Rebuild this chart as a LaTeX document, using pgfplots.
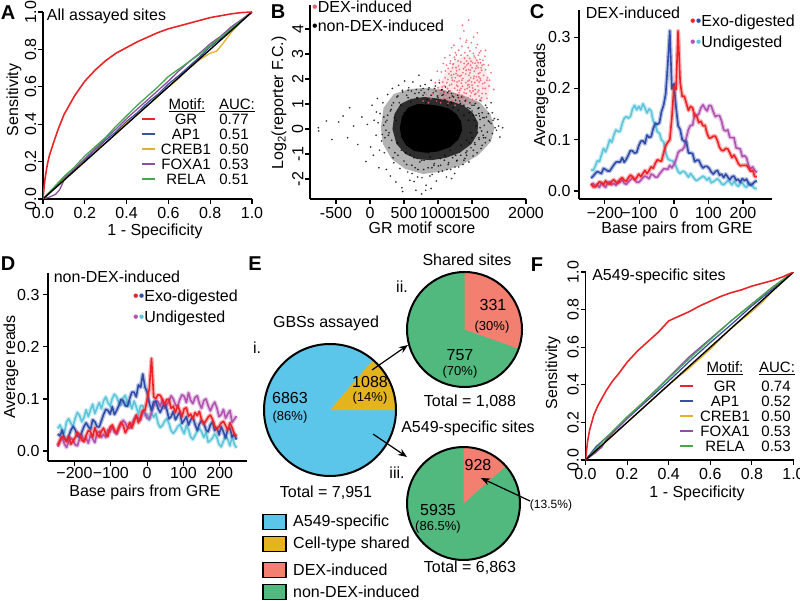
\documentclass[border=0pt]{standalone}
\usepackage{fontspec}
\setmainfont{Liberation Sans}
\usepackage{pgfplots}
\pgfplotsset{compat=1.18}
\usepackage{pgfplotstable}
\usetikzlibrary{arrows.meta}
\newcommand\fs[1]{\fontsize{#1}{#1}\selectfont}
\definecolor{cGR}{HTML}{E8262A}
\definecolor{cAP}{HTML}{3C50A0}
\definecolor{cCR}{HTML}{E3B12A}
\definecolor{cFO}{HTML}{8E4FA0}
\definecolor{cRE}{HTML}{45A84E}
\definecolor{cBlue}{HTML}{2F4CA8}
\definecolor{cRed}{HTML}{EE2226}
\definecolor{cCyan}{HTML}{5EC6DA}
\definecolor{cMag}{HTML}{B153B0}
\definecolor{pBlue}{HTML}{5CC6EA}
\definecolor{pGold}{HTML}{E4B41E}
\definecolor{pSalmon}{HTML}{F27F6F}
\definecolor{pGreen}{HTML}{52B97E}
\definecolor{dexred}{HTML}{F05A68}
\pgfplotsset{
 rstyle/.style={
  scale only axis, anchor=south west,
  axis x line*=bottom, axis y line*=left,
  axis line style={line width=1.3pt},
  tick align=outside, major tick length=5pt,
  every tick/.style={line width=1.1pt, black},
  tick label style={font=\fs{16}},
  /pgf/number format/assume math mode=true,
  scaled ticks=false,
 },
 rot ticks/.style={yticklabel style={rotate=90, anchor=south, inner sep=1.5pt}},
 ribbon/.style={line width=4.2pt, opacity=0.35, line join=round},
 core/.style={line width=1.6pt, line join=round},
}
\tikzset{lab/.style={font=\fs{16}, inner sep=0pt},
 lab15/.style={font=\fs{15}, inner sep=0pt},
 pct/.style={font=\fs{13}, inner sep=0pt},
 letter/.style={font=\bfseries\fs{20}, inner sep=0pt}}

\pgfplotstableread{
x b r c m
-240 0.025 0.014 0.042 0.012
-234 0.029 0.008 0.040 0.015
-228 0.034 0.008 0.048 0.009
-222 0.038 0.013 0.059 0.012
-216 0.036 0.018 0.057 0.007
-210 0.034 0.016 0.070 0.016
-204 0.044 0.012 0.083 0.011
-198 0.042 0.020 0.076 0.007
-192 0.039 0.015 0.087 0.016
-186 0.039 0.013 0.100 0.018
-180 0.045 0.019 0.095 0.012
-174 0.051 0.022 0.109 0.015
-168 0.056 0.017 0.119 0.011
-162 0.057 0.015 0.116 0.019
-156 0.056 0.023 0.116 0.017
-150 0.065 0.026 0.131 0.022
-144 0.056 0.021 0.142 0.015
-138 0.062 0.019 0.145 0.013
-132 0.070 0.026 0.142 0.018
-126 0.079 0.031 0.145 0.022
-120 0.078 0.028 0.160 0.026
-114 0.074 0.022 0.167 0.023
-108 0.075 0.026 0.158 0.017
-102 0.088 0.033 0.165 0.017
-96 0.097 0.028 0.158 0.021
-90 0.098 0.034 0.170 0.026
-84 0.092 0.040 0.162 0.029
-78 0.109 0.034 0.152 0.027
-72 0.104 0.040 0.160 0.024
-66 0.106 0.047 0.156 0.033
-60 0.122 0.044 0.136 0.031
-54 0.132 0.054 0.131 0.027
-48 0.130 0.061 0.115 0.027
-42 0.133 0.059 0.113 0.033
-36 0.155 0.058 0.099 0.038
-30 0.167 0.074 0.096 0.043
-24 0.189 0.088 0.075 0.043
-18 0.245 0.095 0.063 0.042
-12 0.312 0.100 0.060 0.050
-6 0.199 0.143 0.059 0.045
0 0.209 0.204 0.057 0.052
6 0.163 0.198 0.048 0.061
12 0.127 0.312 0.038 0.075
18 0.120 0.212 0.034 0.079
24 0.100 0.184 0.038 0.080
30 0.097 0.185 0.038 0.086
36 0.096 0.171 0.033 0.104
42 0.074 0.157 0.027 0.120
48 0.074 0.165 0.034 0.128
54 0.073 0.162 0.029 0.128
60 0.057 0.146 0.023 0.150
66 0.060 0.146 0.020 0.148
72 0.060 0.133 0.023 0.150
78 0.051 0.136 0.026 0.162
84 0.045 0.127 0.029 0.168
90 0.048 0.128 0.026 0.161
96 0.048 0.112 0.021 0.156
102 0.044 0.103 0.026 0.167
108 0.037 0.104 0.016 0.166
114 0.033 0.107 0.018 0.154
120 0.038 0.107 0.021 0.145
126 0.040 0.098 0.024 0.147
132 0.031 0.085 0.020 0.147
138 0.033 0.079 0.014 0.136
144 0.026 0.079 0.012 0.119
150 0.033 0.083 0.016 0.117
156 0.027 0.082 0.020 0.119
162 0.022 0.074 0.017 0.104
168 0.028 0.065 0.012 0.104
174 0.029 0.070 0.019 0.104
180 0.021 0.063 0.013 0.084
186 0.023 0.054 0.009 0.083
192 0.017 0.049 0.014 0.082
198 0.024 0.050 0.016 0.067
204 0.020 0.050 0.010 0.069
210 0.023 0.050 0.007 0.065
216 0.015 0.045 0.014 0.050
222 0.011 0.038 0.015 0.043
228 0.014 0.040 0.009 0.047
234 0.018 0.028 0.005 0.040
240 0.020 0.028 0.005 0.036
}\tabC

\pgfplotstableread{
x b r c m
-246 0.033 0.011 0.043 0.008
-240 0.029 0.021 0.050 0.018
-234 0.040 0.028 0.040 0.025
-228 0.025 0.025 0.035 0.014
-222 0.020 0.018 0.056 0.007
-216 0.029 0.028 0.062 0.018
-210 0.040 0.013 0.053 0.025
-204 0.047 0.019 0.048 0.021
-198 0.041 0.026 0.063 0.012
-192 0.029 0.036 0.074 0.010
-186 0.027 0.031 0.068 0.024
-180 0.036 0.021 0.056 0.031
-174 0.047 0.018 0.064 0.019
-168 0.054 0.030 0.079 0.025
-162 0.047 0.039 0.066 0.015
-156 0.041 0.037 0.079 0.031
-150 0.060 0.027 0.090 0.024
-144 0.056 0.045 0.072 0.016
-138 0.047 0.033 0.083 0.034
-132 0.046 0.027 0.093 0.038
-126 0.058 0.038 0.081 0.026
-120 0.070 0.044 0.096 0.032
-114 0.080 0.033 0.104 0.026
-108 0.078 0.028 0.093 0.041
-102 0.071 0.046 0.086 0.037
-96 0.085 0.050 0.101 0.047
-90 0.070 0.040 0.109 0.036
-84 0.078 0.035 0.104 0.032
-78 0.087 0.046 0.093 0.042
-72 0.099 0.055 0.088 0.052
-66 0.096 0.049 0.102 0.059
-60 0.087 0.035 0.107 0.054
-54 0.086 0.043 0.089 0.045
-48 0.101 0.055 0.095 0.044
-42 0.113 0.044 0.081 0.052
-36 0.113 0.056 0.096 0.061
-30 0.104 0.069 0.085 0.068
-24 0.127 0.054 0.071 0.063
-18 0.122 0.066 0.087 0.059
-12 0.148 0.078 0.087 0.076
-6 0.123 0.078 0.068 0.073
0 0.113 0.099 0.071 0.063
6 0.092 0.120 0.059 0.062
12 0.078 0.178 0.073 0.074
18 0.095 0.104 0.065 0.087
24 0.095 0.101 0.072 0.097
30 0.082 0.108 0.053 0.095
36 0.074 0.107 0.045 0.086
42 0.084 0.099 0.049 0.099
48 0.091 0.090 0.057 0.082
54 0.080 0.099 0.062 0.089
60 0.062 0.099 0.053 0.096
66 0.066 0.082 0.039 0.106
72 0.076 0.086 0.034 0.100
78 0.060 0.074 0.039 0.089
84 0.068 0.087 0.047 0.086
90 0.075 0.077 0.051 0.099
96 0.053 0.066 0.042 0.108
102 0.059 0.081 0.033 0.105
108 0.066 0.083 0.049 0.093
114 0.050 0.067 0.041 0.112
120 0.060 0.071 0.027 0.097
126 0.065 0.062 0.022 0.091
132 0.051 0.074 0.030 0.103
138 0.040 0.068 0.038 0.106
144 0.052 0.076 0.043 0.091
150 0.059 0.059 0.037 0.082
156 0.053 0.052 0.026 0.097
162 0.041 0.058 0.036 0.100
168 0.037 0.065 0.017 0.087
174 0.050 0.069 0.020 0.077
180 0.056 0.061 0.025 0.087
186 0.039 0.048 0.033 0.094
192 0.045 0.042 0.026 0.083
198 0.031 0.047 0.013 0.066
204 0.047 0.054 0.008 0.070
210 0.037 0.057 0.019 0.080
216 0.025 0.049 0.028 0.063
222 0.042 0.040 0.023 0.071
228 0.044 0.054 0.010 0.078
234 0.027 0.045 0.028 0.055
240 0.032 0.033 0.013 0.061
246 0.022 0.028 0.006 0.067
}\tabD

\begin{document}
\begin{tikzpicture}
\useasboundingbox (0pt,0pt) rectangle (800pt,-601pt);

% ---------------- Panel A ----------------
\begin{axis}[rstyle, rot ticks, at={(43pt,-199pt)}, width=209pt, height=187pt,
 xmin=0, xmax=1, ymin=0, ymax=1, no markers,
 xtick={0,0.2,0.4,0.6,0.8,1}, xticklabels={0.0,0.2,0.4,0.6,0.8,1.0},
 ytick={0,0.2,0.4,0.6,0.8,1}, yticklabels={0.0,0.2,0.4,0.6,0.8,1.0}]
\addplot[cAP, line width=1.3pt] coordinates {(0,0) (0.02,0.025) (0.05,0.055) (0.08,0.09) (0.1,0.11) (0.15,0.16) (0.2,0.21) (0.25,0.26) (0.3,0.315) (0.35,0.36) (0.4,0.415) (0.45,0.46) (0.5,0.515) (0.55,0.56) (0.6,0.615) (0.65,0.66) (0.7,0.71) (0.75,0.76) (0.8,0.815) (0.85,0.86) (0.9,0.91) (0.95,0.955) (1,1)};
\addplot[cCR, line width=1.3pt] coordinates {(0,0) (0.03,0.035) (0.06,0.06) (0.1,0.105) (0.15,0.155) (0.2,0.2) (0.25,0.255) (0.3,0.3) (0.35,0.35) (0.4,0.405) (0.45,0.45) (0.5,0.5) (0.55,0.55) (0.6,0.6) (0.65,0.645) (0.7,0.7) (0.75,0.745) (0.8,0.78) (0.83,0.79) (0.86,0.83) (0.9,0.89) (0.95,0.95) (1,1)};
\addplot[cFO, line width=1.3pt] coordinates {(0,0) (0.03,0.01) (0.06,0.025) (0.08,0.05) (0.1,0.1) (0.15,0.16) (0.2,0.215) (0.25,0.27) (0.3,0.325) (0.35,0.375) (0.4,0.43) (0.45,0.48) (0.5,0.53) (0.55,0.58) (0.6,0.63) (0.65,0.685) (0.7,0.735) (0.75,0.78) (0.8,0.83) (0.85,0.87) (0.9,0.92) (0.95,0.96) (1,1)};
\addplot[cRE, line width=1.3pt] coordinates {(0,0) (0.05,0.06) (0.1,0.12) (0.15,0.17) (0.2,0.23) (0.25,0.28) (0.3,0.33) (0.35,0.39) (0.4,0.445) (0.45,0.5) (0.5,0.55) (0.55,0.6) (0.6,0.655) (0.65,0.695) (0.7,0.735) (0.75,0.775) (0.8,0.82) (0.85,0.865) (0.9,0.91) (0.95,0.955) (1,1)};
\addplot[black, line width=1.4pt] coordinates {(0,0) (1,1)};
\addplot[cGR, line width=1.6pt] coordinates {(0,0) (0.005,0.06) (0.01,0.11) (0.02,0.18) (0.03,0.23) (0.05,0.3) (0.075,0.38) (0.1,0.45) (0.125,0.5) (0.15,0.55) (0.2,0.63) (0.25,0.69) (0.3,0.74) (0.35,0.78) (0.4,0.81) (0.45,0.84) (0.5,0.865) (0.55,0.89) (0.6,0.91) (0.65,0.925) (0.7,0.94) (0.75,0.955) (0.8,0.97) (0.85,0.98) (0.9,0.99) (0.95,0.997) (1,1)};
\end{axis}
\node[letter] at (8pt,-13pt) {A};
\node[lab] at (106.5pt,-16pt) {All assayed sites};
\node[lab, rotate=90] at (14pt,-100pt) {Sensitivity};
\node[lab] at (155pt,-231pt) {1 - Specificity};
\node[lab15] at (187pt,-105pt) {\underline{Motif:}};
\node[lab15] at (237pt,-105pt) {\underline{AUC:}};
\foreach \y/\c/\n/\v in {119/cGR/GR/0.77, 134/cAP/AP1/0.51, 149/cCR/CREB1/0.50, 164/cFO/FOXA1/0.53, 179/cRE/RELA/0.51}{
 \draw[\c, line width=1.5pt] (142pt,-\y pt) -- (155pt,-\y pt);
 \node[lab15] at (186pt,-\y pt) {\n};
 \node[lab15] at (234pt,-\y pt) {\v};
}

% ---------------- Panel B ----------------
\begin{axis}[rstyle, rot ticks, at={(310pt,-199pt)}, width=216pt, height=194pt,
 xmin=-882, xmax=2294, ymin=-2.8, ymax=4.96,
 xtick={-500,0,500,1000,1500,2294}, xticklabels={-500,0,500,1000,1500,2000},
 ytick={-2,-1,0,1,2,3,4}, yticklabels={-2,-1,0,1,2,3,4}]
\addplot[draw=none, fill=dexred, fill opacity=0.14] coordinates {(950,1.05) (1000,1.6) (1100,2.2) (1250,2.7) (1400,2.95) (1550,2.85) (1680,2.5) (1760,1.9) (1740,1.3) (1600,1.0) (1400,0.95) (1200,0.95) (950,1.05)};
\addplot[draw=none, fill=black, fill opacity=0.3] coordinates {(160,0.05) (200,0.85) (350,1.4) (580,1.6) (840,1.65) (1100,1.55) (1370,1.35) (1620,1.05) (1770,0.6) (1830,0.05) (1780,-0.5) (1590,-1.05) (1340,-1.45) (1060,-1.7) (780,-1.8) (520,-1.6) (320,-1.2) (190,-0.6) (160,0.05)};
\addplot[draw=none, fill=black, fill opacity=0.75] coordinates {(330,0) (360,0.6) (450,1.0) (600,1.2) (800,1.28) (990,1.22) (1180,1.12) (1370,0.95) (1510,0.65) (1590,0.25) (1580,-0.2) (1490,-0.6) (1320,-0.95) (1120,-1.15) (900,-1.25) (690,-1.2) (520,-1.0) (390,-0.6) (330,0)};
\addplot[draw=none, fill=black] coordinates {(440,0.05) (470,0.5) (560,0.85) (700,1.0) (870,0.98) (1020,0.92) (1160,0.82) (1270,0.6) (1340,0.3) (1355,-0.05) (1300,-0.42) (1180,-0.72) (1000,-0.9) (820,-0.95) (650,-0.88) (530,-0.65) (460,-0.32) (440,0.05)};
\addplot[only marks, mark=*, mark size=0.7pt, black, mark options={draw opacity=0.6, fill opacity=0.6}] coordinates {
(-760,0.05) (-755,-0.08) (-640,0.32) (-560,-0.42) (-460,0.28) (-395,0.52) (-330,-0.35) (-300,0.85) (-240,0.12) (-180,-0.62) (-120,0.48) (-60,-1.3) (-40,0.18) (10,-0.72) (30,0.95) (50,-1.05) (60,0.35) (90,-0.25) (110,1.22) (130,-1.55) (150,0.62) (170,-0.48) (190,1.05) (210,-0.95) (230,0.28) (240,-1.62) (260,1.38) (280,-0.15) (300,-1.88) (310,0.78) (330,1.62) (350,-1.35) (360,0.45) (380,-2.12) (395,1.28) (410,-1.05) (420,1.75) (440,-1.58) (455,0.95) (470,-2.35) (480,1.48) (500,-1.28) (510,1.92) (525,-0.95) (540,1.35) (555,-1.72) (570,1.65) (585,-2.05) (600,1.08) (615,-1.45) (630,1.88) (645,-1.15) (660,1.42) (675,-2.45) (690,1.25) (705,-1.62) (720,2.15) (735,-1.32) (750,1.55) (765,-1.95) (780,1.35) (795,-1.25) (810,1.78) (825,-2.25) (840,1.18) (855,-1.55) (870,1.65) (885,-1.12) (900,1.95) (915,-1.82) (930,1.45) (945,-1.38) (960,1.72) (975,-2.08) (990,1.32) (1005,-1.48) (1020,1.85) (1035,-1.18) (1050,1.55) (1065,-1.68) (1080,1.38) (1095,-1.25) (1110,1.68) (1125,-1.92) (1140,1.45) (1155,-1.35) (1170,1.25) (1185,-1.62) (1200,1.42) (1215,-1.15) (1230,1.28) (1245,-1.78) (1260,1.15) (1275,-1.28) (1290,1.35) (1305,-1.52) (1320,1.12) (1335,-1.05) (1350,1.28) (1365,-1.42) (1380,0.95) (1395,-1.18) (1410,1.15) (1425,-0.88) (1440,0.85) (1455,-1.32) (1470,1.05) (1485,-0.75) (1500,0.72) (1515,-1.08) (1530,0.95) (1545,-0.62) (1560,0.55) (1575,-0.95) (1590,0.82) (1605,-0.42) (1620,0.38) (1635,-0.78) (1650,0.65) (1665,-0.25) (1680,0.15) (1695,-0.55) (1710,0.48) (1725,-0.12) (1740,0.32) (1760,-0.45) (1780,0.22) (1800,-0.18) (1830,0.42) (1860,-0.05) (1890,0.12) (1910,-0.32) (1950,0.05)
(200,0.15) (220,-0.35) (260,0.55) (280,-0.75) (320,0.95) (340,-1.15) (380,0.35) (400,-0.55) (430,1.05) (460,-0.85) (500,0.65) (520,-0.35) (560,1.25) (590,-1.05) (640,0.75) (680,-0.65) (720,1.45) (760,-1.25) (820,1.05) (860,-0.95) (900,0.55) (940,-1.45) (980,1.15) (1020,-0.75) (1060,1.35) (1100,-1.05) (1140,0.95) (1180,-0.85) (1220,0.85) (1260,-1.05) (1300,0.75) (1340,-0.65) (1380,0.55) (1420,-0.45) (1460,0.65) (1500,-0.35) (1540,0.35) (1580,-0.15) (1620,0.05) (1660,0.45) (1700,-0.35) (1200,1.05) (1300,1.25) (1400,1.12) (1500,0.95) (1600,0.85) (1100,1.18) (1000,1.25) (900,1.35) (800,1.45) (700,1.25)
(480,-2.5) (820,-2.45) (900,-2.38) (1200,-1.98) (650,-2.1) (760,-2.6)
(1450,0.35) (1480,-0.15) (1520,0.55) (1560,0.12) (1600,0.62) (1640,-0.08) (1680,0.45) (1720,0.85) (1760,0.28) (1800,0.65) (1840,0.05) (1880,0.38) (1550,1.02) (1620,1.15) (1700,0.95) (1780,1.05) (1460,-0.55) (1520,-0.85) (1600,-0.35) (1650,-0.65) (1420,-1.05) (1380,-1.25)
(250,0.35) (270,-0.25) (300,0.72) (320,-0.45) (345,1.05) (365,-0.95) (235,-0.05) (205,0.48) (180,-0.22) (120,0.25) (140,-0.85) (95,0.68)
(410,1.32) (475,1.55) (540,-1.42) (610,1.52) (665,-1.55) (740,1.72) (790,-1.62) (860,1.58) (910,-1.55) (970,1.52) (1040,-1.45) (1090,1.48) (1150,-1.42) (1210,1.32) (1280,-1.25) (1330,1.02) (1410,-0.95) (1470,0.82) (1540,-0.55) (1610,0.52) (1670,-0.35) (1740,0.62) (1810,0.35)
(620,-1.78) (700,-1.92) (880,-1.88) (1010,-1.72) (1130,-1.62) (1250,-1.52) (560,1.55) (680,1.58) (780,1.62) (950,1.62) (1060,1.58) (1160,1.52)};
\addplot[only marks, mark=*, mark size=0.75pt, dexred, mark options={draw opacity=0.65, fill opacity=0.65}] coordinates {
(1180,1.52) (1320,2.11) (1455,1.78) (1010,1.34) (1590,2.45) (1240,2.87) (1380,1.26) (1520,3.02) (1105,2.05) (1660,1.63) (1290,1.71) (1425,2.56) (980,1.12) (1555,1.41) (1350,3.31) (1210,1.95) (1470,2.24) (1615,2.78) (1150,2.42) (1395,1.58) (1720,1.95) (1275,2.33) (1505,1.19) (1060,1.68) (1630,3.12) (1335,2.68) (1440,1.92) (1195,1.27) (1565,2.09) (1255,3.05) (895,1.21) (1485,2.71) (1700,2.37) (1130,1.85) (1365,2.02) (1600,1.55) (1225,2.61) (1410,3.47) (1050,2.28) (1540,1.86) (1310,1.45) (1675,2.58) (1165,1.12) (1450,2.38) (1580,3.38) (1280,1.88) (1020,1.95) (1390,2.83) (1510,1.64) (1640,1.24) (1230,2.18) (935,1.58) (1470,3.12) (1355,1.35) (1095,1.48) (1620,2.02) (1300,2.52) (1420,1.15) (1750,1.72) (1185,2.72) (1535,2.31) (1260,1.38) (1405,2.2) (1690,2.91) (1140,1.62) (1575,1.95) (1330,3.62) (860,1.05) (1490,1.45) (1215,2.45) (1655,1.81) (1375,2.41) (1080,2.62) (1545,2.63) (1295,1.21) (1435,2.94) (1605,1.32) (1160,2.21) (1460,1.68) (1780,2.25) (1245,1.63) (1525,3.68) (1345,1.83) (990,2.31) (1595,2.21) (1270,2.96) (1415,1.42) (1120,1.35) (1560,1.18) (1385,2.62) (1705,1.41) (1200,1.79) (1480,2.05) (1040,1.05) (1635,2.45) (1320,1.55) (1445,3.25) (1585,1.72) (1175,2.95) (1500,2.45) (1265,2.22) (1410,1.85) (960,1.85) (1625,2.65) (1340,2.95) (1475,1.32) (1145,1.98) (1550,2.85) (1285,1.55) (1400,2.48) (1670,2.15) (1215,1.15) (1530,2.11) (1360,1.71) (1085,1.22) (1610,3.05) (1305,3.15) (1430,1.62) (1740,2.55) (1190,2.3) (1515,1.52) (1255,2.05) (1465,2.82) (1650,1.42) (1125,2.55) (1370,1.28) (1570,2.52) (1235,3.35) (1495,1.88) (830,1.38) (1685,1.85) (1315,2.38) (1455,2.15) (1030,1.55) (1595,2.95) (1280,1.05) (1420,2.72) (1540,1.38) (1170,1.75) (1380,3.92) (1640,2.35) (1220,2.58) (1510,2.65) (1350,1.95) (1070,1.88) (1605,1.88) (1295,2.72) (1440,1.25) (1730,2.05) (1155,1.42) (1560,3.25) (1325,1.25) (1475,2.35) (1000,1.65) (1660,2.75) (1240,1.92) (1395,3.05) (1525,2.02) (1110,2.32) (1585,1.48) (1365,2.25) (1205,2.05) (1490,3.45) (1625,1.95) (1275,1.75) (1415,2.35) (1545,1.58) (1090,1.72) (1340,2.15) (1460,1.95) (1695,1.62) (1180,2.62) (1570,2.75) (1250,2.78) (1435,1.75) (920,1.38) (1615,2.25) (1310,1.92) (1480,2.55) (1135,1.22) (1555,2.42) (1385,1.45) (1230,1.42) (1500,1.75) (1650,2.55) (1265,2.45) (1420,3.55) (1045,1.42) (1590,2.65) (1335,1.62) (1470,1.52) (1760,1.95) (1195,2.15) (1530,2.92) (1290,2.15) (1445,2.62) (1600,2.08) (780,1.12) (1360,4.15) (1580,3.85) (1200,3.25) (1450,4.35) (1700,3.15) (1100,2.85) (1820,1.58) (1635,1.12) (1250,0.95) (1350,1.05) (1150,1.02) (1480,1.02) (1720,1.22)};
\end{axis}
\node[letter] at (278pt,-12pt) {B};
\node[lab, anchor=west] at (312pt,-7pt) {\textcolor{dexred}{•}DEX-induced};
\node[lab, anchor=west] at (312pt,-26pt) {•non-DEX-induced};
\node[lab, rotate=90] at (279pt,-103pt) {Log\textsubscript{2}(reporter F.C.)};
\node[lab] at (422pt,-228pt) {GR motif score};

% ---------------- Panel C ----------------
\begin{axis}[rstyle, at={(579pt,-199pt)}, width=193pt, height=189pt,
 xmin=-275, xmax=284, ymin=-0.0156, ymax=0.3528, no markers,
 xtick={-200,-100,0,100,200}, xticklabels={−200,−100,0,100,200},
 ytick={0,0.1,0.2,0.3}, yticklabels={0.0,0.1,0.2,0.3}]
\addplot[cCyan, ribbon] table[x=x,y=c]{\tabC};
\addplot[cCyan, core] table[x=x,y=c]{\tabC};
\addplot[cMag, ribbon] table[x=x,y=m]{\tabC};
\addplot[cMag, core] table[x=x,y=m]{\tabC};
\addplot[cBlue, ribbon] table[x=x,y=b]{\tabC};
\addplot[cBlue, core] table[x=x,y=b]{\tabC};
\addplot[cRed, ribbon] table[x=x,y=r]{\tabC};
\addplot[cRed, core] table[x=x,y=r]{\tabC};
\end{axis}
\node[letter] at (537pt,-12pt) {C};
\node[lab] at (633pt,-13pt) {DEX-induced};
\node[lab, anchor=west] at (690pt,-22pt) {\textcolor{cRed}{•}\textcolor{cBlue}{•}Exo-digested};
\node[lab, anchor=west] at (690pt,-43pt) {\textcolor{cMag}{•}\textcolor{cCyan}{•}Undigested};
\node[lab, rotate=90] at (541pt,-95pt) {Average reads};
\node[lab] at (677pt,-229pt) {Base pairs from GRE};

% ---------------- Panel D ----------------
\begin{axis}[rstyle, at={(48pt,-461pt)}, width=199pt, height=188pt,
 xmin=-273, xmax=275, ymin=-0.0192, ymax=0.342, no markers,
 xtick={-200,-100,0,100,200}, xticklabels={−200,−100,0,100,200},
 xticklabel style={inner sep=1.5pt},
 ytick={0,0.1,0.2,0.3}, yticklabels={0.0,0.1,0.2,0.3}]
\addplot[cCyan, ribbon] table[x=x,y=c]{\tabD};
\addplot[cCyan, core] table[x=x,y=c]{\tabD};
\addplot[cMag, ribbon] table[x=x,y=m]{\tabD};
\addplot[cMag, core] table[x=x,y=m]{\tabD};
\addplot[cBlue, ribbon] table[x=x,y=b]{\tabD};
\addplot[cBlue, core] table[x=x,y=b]{\tabD};
\addplot[cRed, ribbon] table[x=x,y=r]{\tabD};
\addplot[cRed, core] table[x=x,y=r]{\tabD};
\end{axis}
\node[letter] at (8pt,-264pt) {D};
\node[lab] at (117pt,-277pt) {non-DEX-induced};
\node[lab, anchor=west] at (133pt,-297pt) {\textcolor{cRed}{•}\textcolor{cBlue}{•}Exo-digested};
\node[lab, anchor=west] at (133pt,-318pt) {\textcolor{cMag}{•}\textcolor{cCyan}{•}Undigested};
\node[lab, rotate=90] at (11pt,-367pt) {Average reads};
\node[lab] at (145pt,-492pt) {Base pairs from GRE};

% ---------------- Panel E ----------------
\pgfmathsetmacro\angA{1088/7951*360}
\pgfmathsetmacro\angB{90-331/1088*360}
\pgfmathsetmacro\angC{90-928/6863*360}
\begin{axis}[hide axis, x=1pt, y=1pt, xmin=250, xmax=545, ymin=-601, ymax=-250,
 at={(250pt,-601pt)}, anchor=south west, clip=false]
\fill[pBlue] (axis cs:330,-410) circle[radius=66pt];
\fill[pGold] (axis cs:330,-410) -- ++(0:66pt) arc[start angle=0, end angle=\angA, radius=66pt] -- cycle;
\draw[line width=2pt] (axis cs:330,-410) circle[radius=66pt];
\fill[pGreen] (axis cs:464.5,-329.5) circle[radius=57.5pt];
\fill[pSalmon] (axis cs:464.5,-329.5) -- ++(90:57.5pt) arc[start angle=90, end angle=\angB, radius=57.5pt] -- cycle;
\draw[line width=2pt] (axis cs:464.5,-329.5) circle[radius=57.5pt];
\fill[pGreen] (axis cs:463.5,-503.5) circle[radius=56.5pt];
\fill[pSalmon] (axis cs:463.5,-503.5) -- ++(90:56.5pt) arc[start angle=90, end angle=\angC, radius=56.5pt] -- cycle;
\draw[line width=2pt] (axis cs:463.5,-503.5) circle[radius=56.5pt];
\draw[line width=1.2pt, -{Stealth[length=9pt,width=7pt]}] (axis cs:372,-370) -- (axis cs:408,-345);
\draw[line width=1.2pt, -{Stealth[length=9pt,width=7pt]}] (axis cs:373,-434) -- (axis cs:407,-457);
\draw[line width=1.2pt, -{Stealth[length=9pt,width=7pt]}] (axis cs:530,-501) -- (axis cs:481,-478);
\end{axis}
\node[letter] at (255pt,-264pt) {E};
\node[lab] at (326pt,-323pt) {GBSs assayed};
\node[lab] at (257pt,-348pt) {i.};
\node[lab] at (290pt,-398pt) {6863};
\node[pct] at (290pt,-417pt) {(86\%)};
\node[lab] at (370pt,-382pt) {1088};
\node[pct] at (370pt,-398pt) {(14\%)};
\node[lab] at (326pt,-493pt) {Total = 7,951};
\node[lab] at (467pt,-260pt) {Shared sites};
\node[lab] at (402pt,-287pt) {ii.};
\node[lab] at (493pt,-305pt) {331};
\node[pct] at (492pt,-327pt) {(30\%)};
\node[lab] at (460pt,-355pt) {757};
\node[pct] at (460pt,-372pt) {(70\%)};
\node[lab] at (470pt,-402pt) {Total = 1,088};
\node[lab] at (468pt,-428pt) {A549-specific sites};
\node[lab] at (397pt,-473pt) {iii.};
\node[lab] at (478pt,-465pt) {928};
\node[lab] at (438pt,-510pt) {5935};
\node[pct] at (438pt,-527pt) {(86.5\%)};
\node[lab] at (470pt,-568pt) {Total = 6,863};
\node[font=\fs{12}, inner sep=0pt] at (551pt,-505pt) {(13.5\%)};
\foreach \y/\c/\t in {522/pBlue/A549-specific, 544/pGold/Cell-type shared, 570/pSalmon/DEX-induced, 592/pGreen/non-DEX-induced}{
 \draw[fill=\c, line width=1.8pt] (263pt,-\y pt+7.5pt) rectangle (286pt,-\y pt-7.5pt);
 \node[lab, anchor=west] at (293pt,-\y pt) {\t};
}

% ---------------- Panel F ----------------
\begin{axis}[rstyle, rot ticks, at={(585.5pt,-460pt)}, width=208pt, height=188pt,
 xmin=0, xmax=1, ymin=0, ymax=1, no markers,
 xtick={0,0.2,0.4,0.6,0.8,1}, xticklabels={0.0,0.2,0.4,0.6,0.8,1.0},
 ytick={0,0.2,0.4,0.6,0.8,1}, yticklabels={0.0,0.2,0.4,0.6,0.8,1.0}]
\addplot[cAP, line width=1.3pt] coordinates {(0,0) (0.05,0.07) (0.1,0.12) (0.15,0.165) (0.2,0.22) (0.3,0.32) (0.4,0.42) (0.5,0.525) (0.6,0.625) (0.7,0.72) (0.8,0.82) (0.9,0.91) (1,1)};
\addplot[cCR, line width=1.3pt] coordinates {(0,0) (0.1,0.1) (0.2,0.2) (0.3,0.3) (0.4,0.4) (0.5,0.49) (0.6,0.59) (0.7,0.7) (0.8,0.79) (0.85,0.84) (0.9,0.9) (1,1)};
\addplot[cFO, line width=1.3pt] coordinates {(0,0) (0.05,0.04) (0.08,0.07) (0.1,0.11) (0.2,0.22) (0.3,0.33) (0.4,0.44) (0.5,0.55) (0.6,0.645) (0.7,0.74) (0.8,0.83) (0.9,0.92) (1,1)};
\addplot[cRE, line width=1.3pt] coordinates {(0,0) (0.05,0.06) (0.1,0.12) (0.2,0.23) (0.3,0.33) (0.4,0.435) (0.5,0.54) (0.6,0.64) (0.7,0.74) (0.8,0.83) (0.9,0.92) (1,1)};
\addplot[black, line width=1.4pt] coordinates {(0,0) (1,1)};
\addplot[cGR, line width=1.6pt] coordinates {(0,0) (0.005,0.05) (0.01,0.1) (0.02,0.16) (0.04,0.24) (0.06,0.29) (0.08,0.33) (0.1,0.37) (0.13,0.42) (0.16,0.46) (0.2,0.52) (0.25,0.58) (0.3,0.63) (0.35,0.68) (0.4,0.74) (0.45,0.765) (0.5,0.79) (0.55,0.82) (0.6,0.845) (0.65,0.87) (0.7,0.89) (0.75,0.905) (0.8,0.925) (0.85,0.94) (0.9,0.955) (0.95,0.975) (1,1)};
\end{axis}
\node[letter] at (537pt,-265pt) {F};
\node[lab] at (659pt,-276pt) {A549-specific sites};
\node[lab, rotate=90] at (553pt,-373pt) {Sensitivity};
\node[lab] at (697pt,-493pt) {1 - Specificity};
\node[lab15] at (725pt,-368pt) {\underline{Motif:}};
\node[lab15] at (777pt,-368pt) {\underline{AUC:}};
\foreach \y/\c/\n/\v in {386/cGR/GR/0.74, 401/cAP/AP1/0.52, 416/cCR/CREB1/0.50, 431/cFO/FOXA1/0.53, 446/cRE/RELA/0.53}{
 \draw[\c, line width=1.5pt] (680pt,-\y pt) -- (693pt,-\y pt);
 \node[lab15] at (725pt,-\y pt) {\n};
 \node[lab15] at (776pt,-\y pt) {\v};
}
\end{tikzpicture}
\end{document}
